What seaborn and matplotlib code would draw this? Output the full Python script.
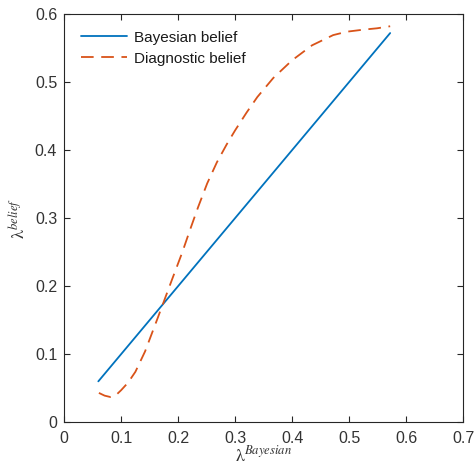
import matplotlib
matplotlib.use("Agg")
import matplotlib.pyplot as plt
import seaborn as sns
import pandas as pd

bayes_x = [0.06, 0.572]
bayes_y = [0.06, 0.572]

diag_x = [0.061, 0.071, 0.081, 0.090, 0.100, 0.112, 0.125, 0.142, 0.165, 0.189, 0.207,
          0.221, 0.235, 0.251, 0.268, 0.285, 0.300, 0.320, 0.339, 0.367, 0.400, 0.435,
          0.472, 0.496, 0.525, 0.549, 0.572]
diag_y = [0.043, 0.039, 0.037, 0.039, 0.047, 0.058, 0.074, 0.104, 0.155, 0.209, 0.249,
          0.283, 0.316, 0.351, 0.382, 0.408, 0.429, 0.455, 0.478, 0.506, 0.532, 0.554,
          0.569, 0.574, 0.577, 0.579, 0.582]

xticks = [0, 0.1, 0.2, 0.3, 0.4, 0.5, 0.6, 0.7]
yticks = [0, 0.1, 0.2, 0.3, 0.4, 0.5, 0.6]
tick_labels_x = ["0", "0.1", "0.2", "0.3", "0.4", "0.5", "0.6", "0.7"]
tick_labels_y = ["0", "0.1", "0.2", "0.3", "0.4", "0.5", "0.6"]

sns.set_theme(style="white")
plt.rcParams['font.family'] = ['Liberation Sans', 'DejaVu Sans']
plt.rcParams['mathtext.fontset'] = 'stix'

fig = plt.figure(figsize=(4.75, 4.67), dpi=100)
ax = fig.add_axes([0.135, 0.096, 0.840, 0.874])

df_b = pd.DataFrame({"x": bayes_x, "y": bayes_y})
df_d = pd.DataFrame({"x": diag_x, "y": diag_y})

sns.lineplot(data=df_b, x="x", y="y", ax=ax, color="#0072BD", linewidth=1.3,
             label="Bayesian belief", sort=False)
sns.lineplot(data=df_d, x="x", y="y", ax=ax, color="#D95319", linewidth=1.3,
             label="Diagnostic belief", sort=False, dashes=False)
ax.lines[1].set_dashes([7, 4.2])

ax.set_xlim(0, 0.7)
ax.set_ylim(0, 0.6)
ax.set_xticks(xticks)
ax.set_xticklabels(tick_labels_x)
ax.set_yticks(yticks)
ax.set_yticklabels(tick_labels_y)
ax.tick_params(direction="in", length=4, width=0.8, colors="#262626", labelsize=11.5,
               top=True, right=True, bottom=True, left=True, labelcolor="#333333")
ax.tick_params(axis="x", pad=6)
ax.tick_params(axis="y", pad=5)
for s in ax.spines.values():
    s.set_visible(True)
    s.set_color("#262626")
    s.set_linewidth(0.8)

ax.set_xlabel(r"$\mathrm{\lambda}^{Bayesian}$", fontsize=13, color="#333333", labelpad=0)
ax.set_ylabel(r"$\mathrm{\lambda}^{belief}$", fontsize=13, color="#333333", labelpad=4)

leg = ax.legend(loc="upper left", frameon=False, fontsize=11, handlelength=3.0,
                borderaxespad=0.7, labelspacing=0.45, handletextpad=0.5)
for t in leg.get_texts():
    t.set_color("#1a1a1a")
ax.grid(False)

fig.savefig("out.png", dpi=100)
